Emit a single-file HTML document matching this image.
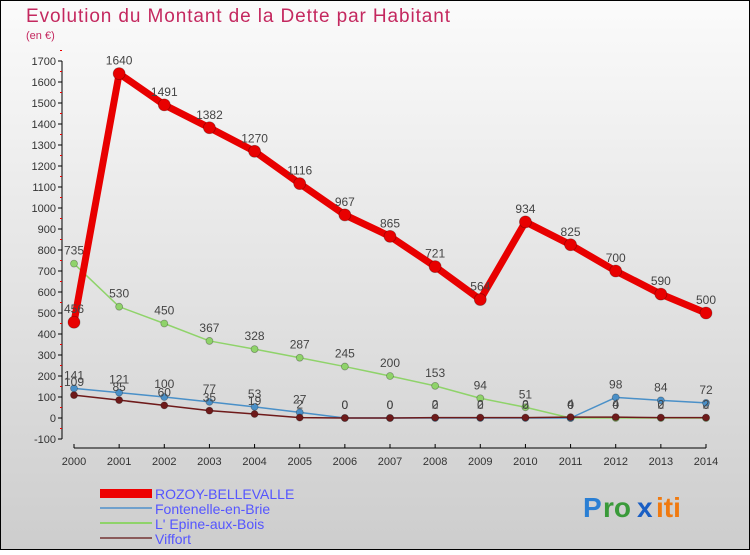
<!DOCTYPE html>
<html><head><meta charset="utf-8"><style>
html,body{margin:0;padding:0}
body{width:750px;height:550px;overflow:hidden;font-family:"Liberation Sans",sans-serif}
svg text{font-family:"Liberation Sans",sans-serif}
</style></head><body>
<svg id="chart" width="750" height="550" xmlns="http://www.w3.org/2000/svg">
<defs><linearGradient id="bg" x1="0" y1="0" x2="0" y2="1"><stop offset="0" stop-color="#fbfbfb"/><stop offset="1" stop-color="#cdcdcd"/></linearGradient></defs>
<rect x="0.5" y="0.5" width="749" height="549" fill="url(#bg)" stroke="#000"/>
<text x="26" y="22" font-size="19" fill="#c4285f" textLength="424">Evolution du Montant de la Dette par Habitant</text>
<text x="26" y="39" font-size="11" fill="#c4285f">(en €)</text>
<g id="axes"></g>
<g id="series"></g>
<g id="legend">
<rect x="100" y="489" width="52" height="9" fill="#e00"/>
<text x="155" y="499" font-size="14" fill="#55f">ROZOY-BELLEVALLE</text>
<rect x="100" y="507" width="52" height="2" fill="#6fa0cc"/>
<text x="155" y="514" font-size="14" fill="#55f">Fontenelle-en-Brie</text>
<rect x="100" y="522" width="52" height="2" fill="#8fd36a"/>
<text x="155" y="529" font-size="14" fill="#55f">L' Epine-aux-Bois</text>
<rect x="100" y="537" width="52" height="2" fill="#8a5a5a"/>
<text x="155" y="544" font-size="14" fill="#55f">Viffort</text>
</g>
<g font-size="28" font-weight="bold">
<text x="583" y="517" fill="#2a7fd4">P</text><text x="603" y="517" fill="#3a9a3a">ro</text><text x="637" y="517" fill="#1a5fc4">x</text><text x="656" y="517" fill="#f07a10">iti</text>
</g>
</svg>
<script>
const years=[2000,2001,2002,2003,2004,2005,2006,2007,2008,2009,2010,2011,2012,2013,2014];
const yTicks=[-100,0,100,200,300,400,500,600,700,800,900,1000,1100,1200,1300,1400,1500,1600,1700];
const rozoy=[456,1640,1491,1382,1270,1116,967,865,721,564,934,825,700,590,500];
const fontenelle=[141,121,100,77,53,27,0,0,0,0,0,0,98,84,72];
const epine=[735,530,450,367,328,287,245,200,153,94,51,0,0,0,0];
const viffort=[109,85,60,35,19,2,0,0,2,2,2,4,4,2,2];
const NS="http://www.w3.org/2000/svg";
const x0=74,x1=706,y0=418,pxPer=0.21;
const X=i=>x0+(x1-x0)*i/(years.length-1);
const Y=v=>y0-v*pxPer;
function mk(tag,attrs,parent){const e=document.createElementNS(NS,tag);for(const k in attrs)e.setAttribute(k,attrs[k]);parent.appendChild(e);return e;}
const axes=document.getElementById('axes');
const yl=mk('line',{x1:62,y1:Y(1700),x2:62,y2:Y(-100),stroke:'#000'},axes);


const xl=mk('line',{x1:x0,y1:448,x2:x1,y2:448,stroke:'#000'},axes);


yTicks.forEach(v=>{
  mk('line',{x1:58,y1:Y(v),x2:62,y2:Y(v),stroke:'#000'},axes);
  mk('line',{x1:60,y1:Y(v+50),x2:62,y2:Y(v+50),stroke:'#e00'},axes);
  const t=mk('text',{x:56,y:Y(v)+4,'font-size':11,'text-anchor':'end',fill:'#333'},axes);
  
  
  t.textContent=v;
});
years.forEach((yr,i)=>{
  mk('line',{x1:X(i),y1:444,x2:X(i),y2:448,stroke:'#000'},axes);
  const t=mk('text',{x:X(i),y:465,'font-size':11,'text-anchor':'middle',fill:'#333'},axes);
  
  
  t.textContent=yr;
});
const g=document.getElementById('series');
function series(name,data,color,w,r){
  const p=mk('polyline',{points:data.map((v,i)=>X(i)+','+Y(v)).join(' '),fill:'none',stroke:color,'stroke-width':w,'stroke-linejoin':'round'},g);
  
  
  data.forEach((v,i)=>{
    const c=mk('circle',{cx:X(i),cy:Y(v),r:r,fill:color,stroke:'rgba(0,0,0,0.3)','stroke-width':0.8},g);
    
    
    const t=mk('text',{x:X(i),y:Y(v)-9,'font-size':12,'text-anchor':'middle',fill:'#444'},g);
    
    
    t.textContent=v;
  });
}
series('epine',epine,'#8fd36a',1.5,3.5);
series('fontenelle',fontenelle,'#4a90c8',1.5,3.5);
series('viffort',viffort,'#6e1a1a',1.5,3.5);
series('rozoy',rozoy,'#e80000',7,6);
</script>
</body></html>
